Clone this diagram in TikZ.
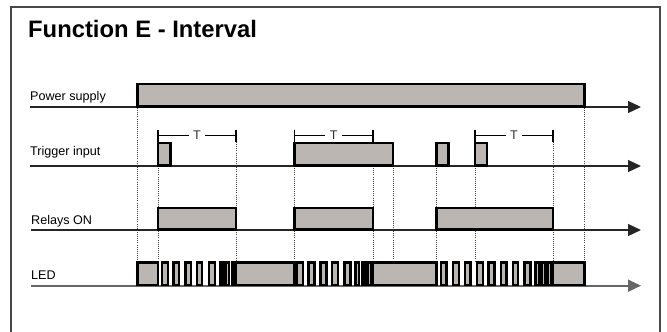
\documentclass[tikz,border=0pt]{standalone}
\usepackage{fontspec}
\setmainfont{Liberation Sans}
\usetikzlibrary{arrows.meta}
\definecolor{boxgray}{RGB}{187,182,178}
\definecolor{framegray}{RGB}{72,72,72}
\begin{document}
\begin{tikzpicture}[x=1pt,y=-1pt,
  sig/.style={draw=black,line width=2.3pt,fill=boxgray},
  axisline/.style={draw=black!85,line width=1.3pt,-{Triangle[length=13pt,width=12pt]}},
  guide/.style={draw=black!75,line width=0.6pt,dash pattern=on 0.8pt off 1.3pt},
  lbl/.style={anchor=base west,font=\fontsize{12.6}{14}\selectfont,inner sep=0pt},
  tline/.style={draw=black,line width=1.6pt},
  tlabel/.style={fill=white,font=\fontsize{12.6}{14}\selectfont,inner xsep=4.5pt,inner ysep=0.5pt,text=black!80}]
\useasboundingbox (0,0) rectangle (667,332);
\clip (0,0) rectangle (667,332);
\draw[framegray,line width=1.6pt] (11,7) rectangle (660,345);

% title and labels
\node[anchor=base west,inner sep=0pt,font=\bfseries\fontsize{23.8}{26}\selectfont] (title) at (28,37.5) {Function E - Interval};
\node[lbl] (lpw) at (30,100) {Power supply};
\node[lbl] (ltr) at (30,155) {Trigger input};
\node[lbl] (lre) at (31,224) {Relays ON};
\node[lbl] (lled) at (31,279.5) {LED};

% event times
\def\Pa{137.5}\def\A{158}\def\AT{236}\def\B{294.5}\def\BT{373}\def\Be{393}
\def\C{436.5}\def\D{475}\def\DT{553}\def\Pb{584.5}

% guides
\foreach \gx/\gy in {\Pa/108,\A/166,\AT/142,\B/166,\BT/166,\Be/166,\C/166,\D/166,\DT/142,\Pb/108}
  \draw[guide] (\gx,\gy) -- (\gx,261);

% axes
\coordinate (pwS) at (30,107);   \coordinate (pwE) at (641,107);
\coordinate (trS) at (30,166);   \coordinate (trE) at (641,166);
\coordinate (reS) at (31,230);   \coordinate (reE) at (641,230);
\coordinate (ldS) at (31,285.7); \coordinate (ldE) at (641,285.7);
\draw[axisline] (pwS) -- (pwE);
\draw[axisline] (trS) -- (trE);
\draw[axisline] (reS) -- (reE);
\draw[axisline,draw=black!60,line width=1.7pt] (ldS) -- (ldE);

% power
\draw[sig] (\Pa,84.2) rectangle (\Pb,106.5);

% trigger
\draw[sig] (\A,143.2) rectangle (170.5,165.5);
\draw[sig] (\B,143.2) rectangle (\Be,165.5);
\draw[sig] (\C,143.2) rectangle (448.5,165.5);
\draw[sig] (\D,143.2) rectangle (487,165.5);

% T markers
\foreach \ta/\tb/\nm in {\A/\AT/ta,\B/\BT/tb,\D/\DT/tc}{
  \draw[tline] (\ta,135.6) -- (\tb,135.6);
  \draw[tline] (\ta,129.5) -- (\ta,141.5);
  \draw[tline] (\tb,129.5) -- (\tb,141.5);
  \node[tlabel] (\nm) at ({(\ta+\tb)/2},135.6) {T};
}

% relays
\draw[sig] (\A,207.8) rectangle (\AT,229.5);
\draw[sig] (\B,207.8) rectangle (\BT,229.5);
\draw[sig] (\C,207.8) rectangle (\DT,229.5);

% LED
\foreach \la/\lb in {\Pa/\A,\AT/\B,\BT/\C,\DT/\Pb}
  \draw[sig] (\la,262.6) rectangle (\lb,285.3);
\foreach \la/\lb in {162.1/167.9,173.4/178.9,185.4/190.9,197.1/202.2,209.1/214.9,220.4/223.4,226.0/229.0,231.8/234.6,
  296.8/303.2,308.4/314.6,320.4/326.6,332.1/338.2,344.4/350.6,355.4/358.9,361.8/364.6,367.6/371.2,
  441.1/446.6,452.8/458.9,465.1/470.6,476.8/482.9,488.4/494.6,500.8/506.6,512.8/518.2,524.4/530.6,535.4/539.5,541.4/545.2,547.4/551.2}
  \draw[sig] (\la,262.6) rectangle (\lb,285.3);
\end{tikzpicture}
\end{document}
